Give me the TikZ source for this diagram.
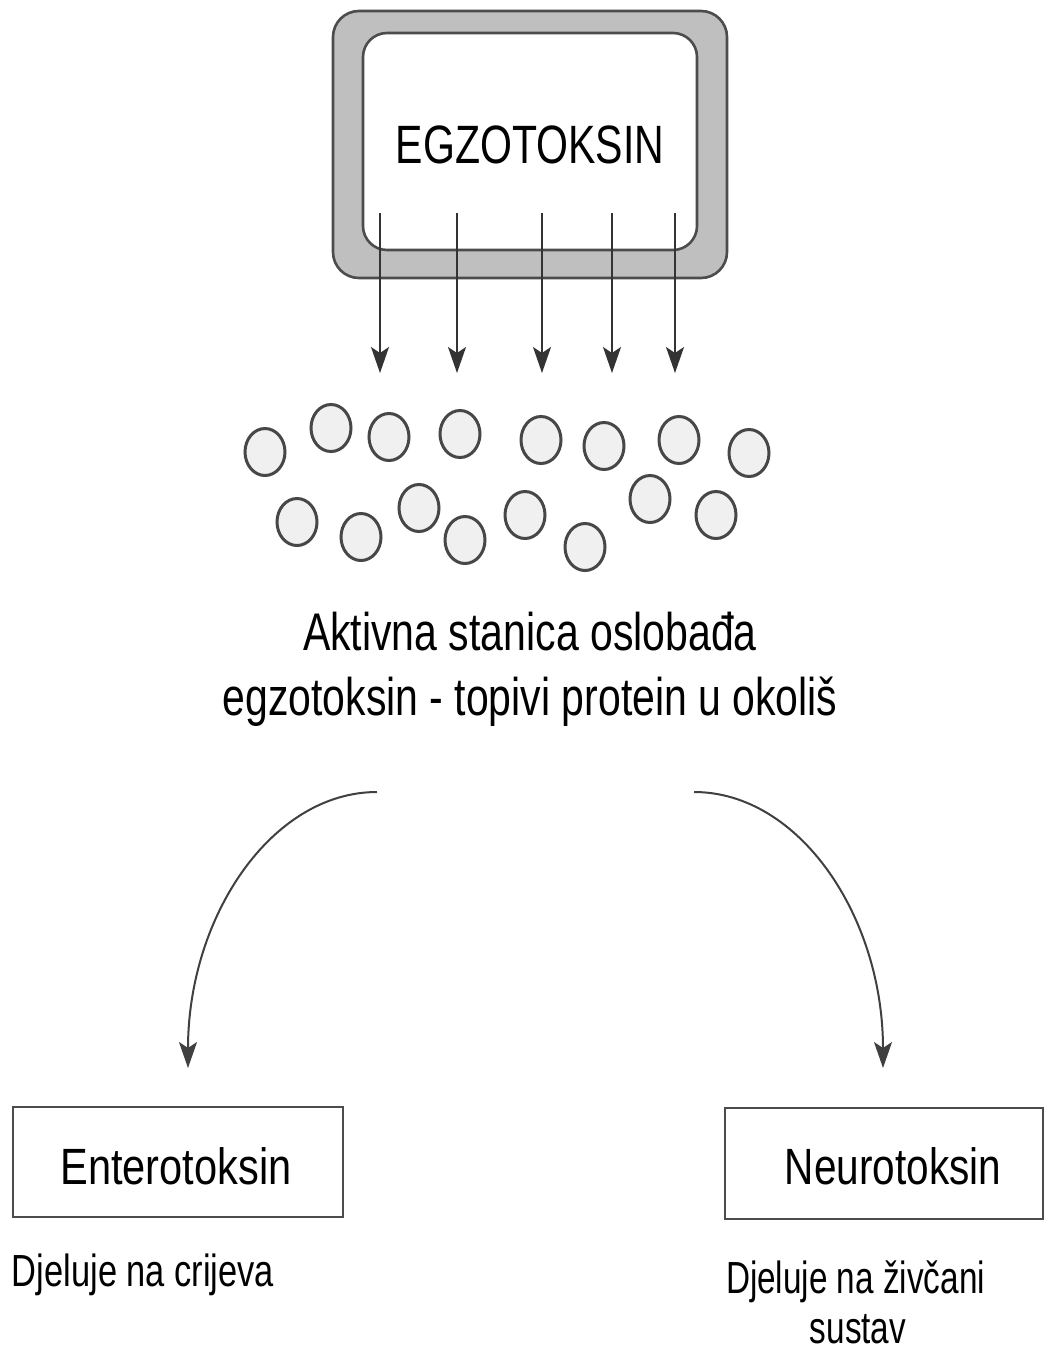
\documentclass[tikz,border=0pt]{standalone}
\usepackage{fontspec}
\setmainfont{Liberation Sans}
\usetikzlibrary{arrows.meta,shapes.geometric}
\begin{document}
\begin{tikzpicture}[x=1pt,y=-1pt,
  txt/.style={inner sep=0pt, outer sep=0pt, anchor=base, text=black},
  arr/.style={draw=black!80, line width=1.6pt, -{Stealth[length=26pt,width=18pt,inset=6pt]}},
  carr/.style={draw=black!75, line width=2pt, -{Stealth[length=26pt,width=18pt,inset=6pt]}},
  bead/.style={draw=black!72, fill=black!6, line width=3pt, ellipse, inner sep=0pt, minimum width=40pt, minimum height=47pt},
  tbox/.style={draw=black!70, line width=2.4pt, inner sep=0pt, fill=white},
]
\useasboundingbox (0,0) rectangle (1045,1352);
\fill[white] (0,0) rectangle (1045,1352);

% cell with membrane
\draw[line width=2.6pt, draw=black!70, fill=black!25, rounded corners=26pt] (333,11) rectangle (727,278);
\draw[line width=2.6pt, draw=black!70, fill=white, rounded corners=24pt] (363,33) rectangle (697,250);
\node[txt] (egzo) at (530,163) {\fontsize{54}{60}\selectfont\scalebox{0.76}[1]{EGZOTOKSIN}};

% release arrows
\foreach \x/\n in {380/1,457/2,542/3,612/4,675/5}{
  \coordinate (s\n) at (\x,213);
  \coordinate (e\n) at (\x,373);
  \draw[arr] (s\n) -- (e\n);
}

% toxin molecules
\foreach \x/\y/\n in {265/452/1,331/428/2,389/437/3,460/434/4,541/440/5,604/446/6,679/440/7,749/453/8,
  297/522/9,361/537/10,419/508/11,465/540/12,525/515/13,585/547/14,650/499/15,716/515/16}{
  \node[bead] (b\n) at (\x,\y) {};
}

% caption
\node[txt] (l1) at (530,650) {\fontsize{53}{60}\selectfont\scalebox{0.774}[1]{Aktivna stanica oslobađa}};
\node[txt] (l2) at (530,715) {\fontsize{53}{60}\selectfont\scalebox{0.773}[1]{egzotoksin - topivi protein u okoliš}};

% branches
\coordinate (cl) at (377,792);
\coordinate (tl) at (188,1068);
\coordinate (cr) at (694,792);
\coordinate (tr) at (883,1068);
\draw[carr] (cl) .. controls (272,792) and (188,916) .. (tl);
\draw[carr] (cr) .. controls (799,792) and (883,916) .. (tr);

% result boxes
\node[tbox, minimum width=330pt, minimum height=110pt] (ent) at (178,1162) {};
\node[tbox, minimum width=318pt, minimum height=111pt] (neu) at (884,1163.5) {};
\node[txt] (entt) at (176,1184) {\fontsize{51}{58}\selectfont\scalebox{0.815}[1]{Enterotoksin}};
\node[txt] (neut) at (893,1184) {\fontsize{51}{58}\selectfont\scalebox{0.795}[1]{Neurotoksin}};

% effects
\node[txt, anchor=base west] (ef1) at (12,1286) {\fontsize{45}{52}\selectfont\scalebox{0.765}[1]{Djeluje na crijeva}};
\node[txt, anchor=base west] (ef2) at (726,1293) {\fontsize{45}{52}\selectfont\scalebox{0.74}[1]{Djeluje na živčani}};
\node[txt] (ef3) at (858,1343) {\fontsize{45}{52}\selectfont\scalebox{0.74}[1]{sustav}};
\end{tikzpicture}
\end{document}
